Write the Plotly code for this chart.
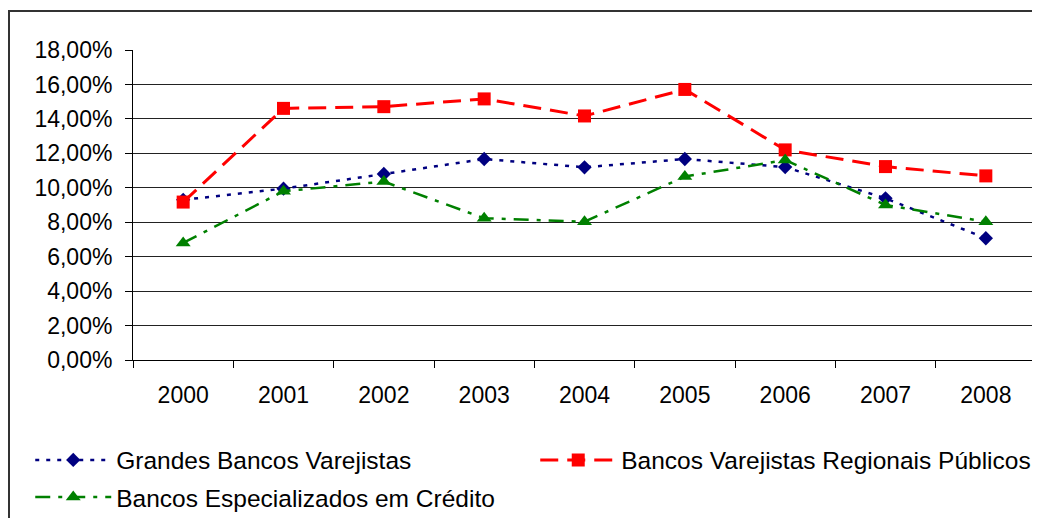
import plotly.graph_objects as go

years = ["2000", "2001", "2002", "2003", "2004", "2005", "2006", "2007", "2008"]
grandes = [9.3, 9.95, 10.8, 11.67, 11.19, 11.67, 11.2, 9.39, 7.07]
regionais = [9.17, 14.61, 14.71, 15.16, 14.17, 15.71, 12.2, 11.23, 10.69]
especializados = [6.8, 9.8, 10.36, 8.23, 8.03, 10.65, 11.61, 9.0, 8.03]
ytick_vals = [0, 2, 4, 6, 8, 10, 12, 14, 16, 18]
ytick_text = ["0,00%", "2,00%", "4,00%", "6,00%", "8,00%", "10,00%", "12,00%", "14,00%", "16,00%", "18,00%"]

FONT = "Liberation Sans, Arial, sans-serif"

fig = go.Figure()
fig.add_trace(go.Scatter(
    x=years, y=grandes, name="Grandes Bancos Varejistas", mode="lines+markers",
    line=dict(color="#000080", width=2.5, dash="4px,7px"),
    marker=dict(symbol="diamond", size=11, color="#000080"),
    legend="legend"))
fig.add_trace(go.Scatter(
    x=years, y=regionais, name="Bancos Varejistas Regionais Públicos", mode="lines+markers",
    line=dict(color="#FF0000", width=3, dash="18px,9px"),
    marker=dict(symbol="square", size=13, color="#FF0000"),
    legend="legend"))
fig.add_trace(go.Scatter(
    x=years, y=especializados, name="Bancos Especializados em Crédito", mode="lines+markers",
    line=dict(color="#008000", width=2.5, dash="15px,8px,4px,8px"),
    marker=dict(symbol="triangle-up", size=13, color="#008000"),
    legend="legend2"))

fig.update_layout(
    width=1032, height=510,
    margin=dict(l=125, r=4, t=42, b=158, autoexpand=False),
    paper_bgcolor="white", plot_bgcolor="white",
    font=dict(family=FONT, size=23, color="black"),
    xaxis=dict(
        type="category", range=[-0.5, 8.5], tickson="boundaries",
        ticks="outside", ticklen=7, tickcolor="black", tickwidth=1,
        showline=True, linecolor="black", linewidth=1,
        showgrid=False, zeroline=False, ticklabelstandoff=14,
        tickfont=dict(family=FONT, size=23, color="black")),
    yaxis=dict(
        range=[0, 18], tickvals=ytick_vals, ticktext=ytick_text,
        ticks="outside", ticklen=7, tickcolor="black", tickwidth=1,
        showline=True, linecolor="black", linewidth=1,
        showgrid=True, gridcolor="#222222", gridwidth=1, zeroline=False,
        ticklabelstandoff=8,
        tickfont=dict(family=FONT, size=23, color="black")),
    legend=dict(
        orientation="h", x=-0.1138, xanchor="left", y=-0.3226, yanchor="middle",
        entrywidth=414, entrywidthmode="pixels", itemwidth=76,
        font=dict(family=FONT, size=24.5, color="black"), bgcolor="rgba(0,0,0,0)",
        traceorder="normal"),
    legend2=dict(
        orientation="h", x=-0.1138, xanchor="left", y=-0.442, yanchor="middle",
        itemwidth=76,
        font=dict(family=FONT, size=24.5, color="black"), bgcolor="rgba(0,0,0,0)"),
    shapes=[dict(type="rect", xref="paper", yref="paper",
                 x0=(9 - 133) / 903, x1=1.2, y0=-0.6, y1=(360 - 11) / 310,
                 line=dict(color="#333333", width=2), fillcolor="rgba(0,0,0,0)", layer="below")],
)

fig.write_html("out.html")
